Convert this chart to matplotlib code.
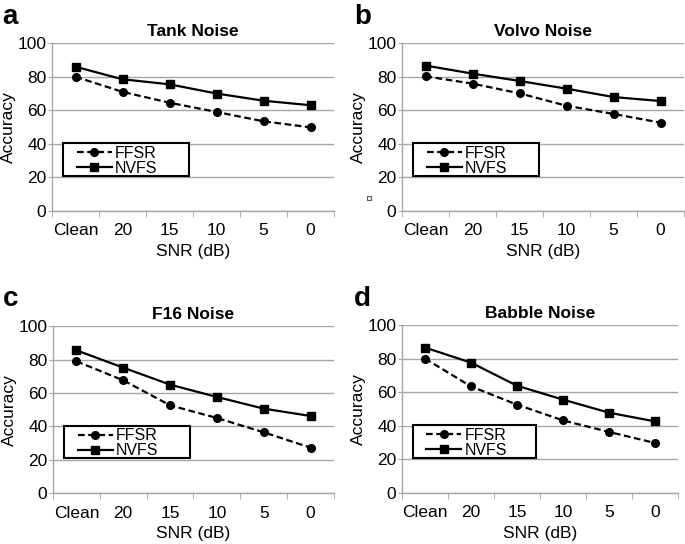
#!/usr/bin/env python3
"""
Accuracy vs SNR for four noise types (FFSR vs NVFS), 2x2 panels
"""

import matplotlib
matplotlib.use("Agg")
import matplotlib.pyplot as plt
from matplotlib.patches import Rectangle

plt.rcParams.update({
    "font.family": ["Liberation Sans", "DejaVu Sans"],
    "font.size": 12,
    "axes.facecolor": "white",
    "figure.facecolor": "white",
})

snr_labels = ["Clean", "20", "15", "10", "5", "0"]

titles = ["Tank Noise", "Volvo Noise", "F16 Noise", "Babble Noise"]
letters = ["a", "b", "c", "d"]

ffsr_tank = [80, 71, 64.5, 59, 53.4, 49.8]
nvfs_tank = [86, 78.5, 75.5, 70, 65.7, 63]
ffsr_volvo = [80.3, 75.9, 70.1, 62.7, 57.8, 52.6]
nvfs_volvo = [86.7, 81.9, 77.5, 72.9, 67.9, 65.5]
ffsr_f16 = [79, 67.6, 52.6, 45, 36.4, 27.2]
nvfs_f16 = [85.6, 75.2, 65, 57.6, 50.6, 46.2]
ffsr_babble = [80.1, 63.5, 52.6, 43.2, 36.3, 29.7]
nvfs_babble = [86.7, 77.7, 63.9, 55.6, 47.8, 42.6]

ffsr_all = [ffsr_tank, ffsr_volvo, ffsr_f16, ffsr_babble]
nvfs_all = [nvfs_tank, nvfs_volvo, nvfs_f16, nvfs_babble]

W, H = 685, 544
# axes boxes in pixels: left, right, top, bottom
boxes = [
    (52, 334, 43.3, 210.7),
    (402, 684, 43.3, 210.7),
    (53, 334, 326.3, 493),
    (402, 678, 325.3, 492.7),
]
GRID = "#a6a6a6"
FS = 12.5

fig = plt.figure(figsize=(W / 100, H / 100), dpi=100)

for i, (l, r, t, b) in enumerate(boxes):
    ax = fig.add_axes([l / W, 1 - b / H, (r - l) / W, (b - t) / H])
    x = list(range(len(snr_labels)))
    ax.plot(x, ffsr_all[i], color="black", linestyle=(0, (3, 1.6)), linewidth=1.6,
            marker="o", markersize=5.5, label="FFSR")
    ax.plot(x, nvfs_all[i], color="black", linestyle="-", linewidth=1.6,
            marker="s", markersize=5.5, label="NVFS")
    ax.set_xlim(-0.5, len(snr_labels) - 0.5)
    ax.set_ylim(0, 100)
    ax.set_yticks(range(0, 101, 20))
    ax.set_xticks(x)
    ax.set_xticklabels(snr_labels, fontsize=FS)
    ax.set_xticks([v - 0.5 for v in range(len(snr_labels) + 1)], minor=True)
    ax.tick_params(axis="x", which="major", length=0, pad=9)
    ax.tick_params(axis="x", which="minor", length=4, color=GRID, direction="out")
    ax.tick_params(axis="y", length=3, color=GRID, pad=1, labelsize=FS)
    ax.yaxis.grid(True, color=GRID, linewidth=1)
    ax.set_axisbelow(True)
    for s in ["top", "right"]:
        ax.spines[s].set_visible(False)
    for s in ["left", "bottom"]:
        ax.spines[s].set_color(GRID)
        ax.spines[s].set_linewidth(1)
    ax.set_title(titles[i], fontsize=FS, fontweight="bold", pad=5)
    ax.set_ylabel("Accuracy", fontsize=FS, labelpad=1)
    ax.set_xlabel("SNR (dB)", fontsize=FS, labelpad=4)

    # legend frame drawn separately so the entries can sit inset like the original
    ax.add_patch(Rectangle((0.039, 0.207), 0.447, 0.197, transform=ax.transAxes,
                           facecolor="white", edgecolor="black", linewidth=1.5,
                           zorder=4))
    leg = ax.legend(loc="center left", bbox_to_anchor=(0.088, 0.298),
                    fontsize=11.5, frameon=False, handlelength=2.2,
                    labelspacing=0.0, borderpad=0, borderaxespad=0,
                    handletextpad=0.2)
    leg.set_zorder(5)
    fig.text((l - 50) / W if i % 2 == 0 else (l - 48) / W,
             1 - (24 if i < 2 else 306) / H, letters[i],
             fontsize=20, fontweight="bold", va="baseline")

# small stray square seen in panel b
fig.patches.append(Rectangle((367 / W, 1 - 200 / H), 4 / W, 4 / H,
                             transform=fig.transFigure, fill=False,
                             edgecolor="#555555", linewidth=0.8))

fig.savefig("out.png", dpi=100)
